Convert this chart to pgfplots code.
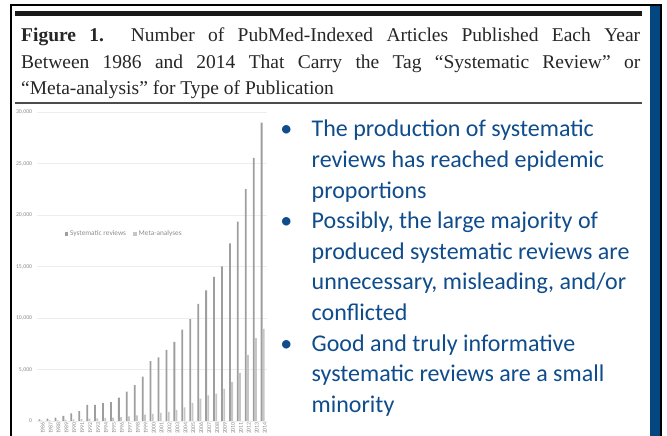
\documentclass[border=0pt]{standalone}
\usepackage{fontspec}
\setmainfont{Liberation Serif}
\newfontfamily\calibri{Carlito}
\usepackage{pgfplots}
\usepackage{pgfplotstable}
\pgfplotsset{compat=1.18}

\definecolor{slideblue}{HTML}{0F4C8C}
\definecolor{sidebar}{HTML}{034680}
\definecolor{srgray}{HTML}{9E9E9E}
\definecolor{magray}{HTML}{C6C6C6}
\definecolor{lblgray}{HTML}{8C8C8C}

% PubMed-indexed articles per year: systematic reviews (sr), meta-analyses (ma)
\pgfplotstableread{
year sr    ma
1986 160   30
1987 230   50
1988 330   70
1989 490   100
1990 750   150
1991 950   180
1992 1570  230
1993 1570  260
1994 1740  290
1995 1840  330
1996 2260  380
1997 2840  450
1998 3490  550
1999 4300  620
2000 5810  680
2001 6170  780
2002 6910  880
2003 7690  1080
2004 8880  1330
2005 9880  1750
2006 11370 2160
2007 12690 2490
2008 13990 2650
2009 15020 3130
2010 17250 3780
2011 19350 4680
2012 22510 6430
2013 25550 8040
2014 28970 8950
}\pubmed

\begin{document}
\begin{tikzpicture}[x=1pt,y=1pt]
\path[use as bounding box] (0,0) rectangle (667,436);

% slide frame
\fill[black] (10,430) rectangle (662,431.5);
\fill[black] (10,0) rectangle (12,431.5);
\fill[sidebar] (650,0) rectangle (660,430);
\fill[black] (660,0) rectangle (662,431.5);

% figure caption with rules
\fill[black!90] (15,420) rectangle (642,425);
\fill[black!70] (15,332) rectangle (642,334);
\begin{scope}[every node/.style={anchor=base west, inner sep=0pt, text=black!85,
    font=\fontsize{19.5}{26}\selectfont}]
\node at (21,394) {\makebox[619pt][s]{\textbf{Figure 1.}\ \ Number of PubMed-Indexed Articles Published Each Year}};
\node at (21,367.5) {\makebox[619pt][s]{Between 1986 and 2014 That Carry the Tag “Systematic Review” or}};
\node at (21,341) {“Meta-analysis” for Type of Publication};
\end{scope}

\begin{axis}[
    at={(36.7pt,15pt)}, anchor=south west,
    scale only axis, width=230pt, height=309pt,
    ybar=0.4pt, bar width=1.8pt,
    xmin=1985.5, xmax=2014.5,
    ymin=0, ymax=30000,
    xtick={1986,...,2014},
    ytick={0,5000,...,30000},
    scaled y ticks=false,
    ymajorgrids,
    grid style={draw=gray!14, line width=0.5pt},
    axis line style={draw=none},
    major tick length=0pt,
    clip=false,
    /pgf/number format/assume math mode=true,
    yticklabel style={/pgf/number format/1000 sep={,}, font=\calibri\fontsize{5.8}{6}\selectfont,
        text=lblgray, xshift=-1pt},
    xticklabel style={/pgf/number format/1000 sep={}, font=\calibri\fontsize{5.8}{6}\selectfont,
        text=lblgray, rotate=90, anchor=east, inner sep=1pt, yshift=-2pt},
    legend style={at={(0.38,0.605)}, anchor=center, draw=none, fill=none,
        legend columns=-1, font=\calibri\fontsize{7.3}{8}\selectfont, text=lblgray,
        /tikz/every even column/.append style={column sep=5pt}},
    every axis plot post/.append style={
        legend image code/.code={\fill[##1] (0pt,-1.8pt) rectangle (3.6pt,1.8pt);}},
  ]
  \addplot[fill=srgray, draw=none] table[x=year, y=sr] {\pubmed};
  \addplot[fill=magray, draw=none] table[x=year, y=ma] {\pubmed};
  \legend{Systematic reviews, Meta-analyses}
\end{axis}

% bullet text
\begin{scope}[every node/.style={inner sep=0pt, text=slideblue,
    font=\calibri\fontsize{24}{28}\selectfont}]
\foreach \t [count=\i] in {The production of systematic, reviews has reached epidemic, proportions,
    {Possibly, the large majority of}, produced systematic reviews are,
    {unnecessary, misleading, and/or}, conflicted,
    Good and truly informative, systematic reviews are a small, minority}
  \node[anchor=base west] at (311.5, {436-137-30.6*(\i-1)}) {\t};
\foreach \i in {1,4,8}
  \node[anchor=base] at (286.3, {436-137-30.6*(\i-1)}) {•};
\end{scope}
\end{tikzpicture}
\end{document}
